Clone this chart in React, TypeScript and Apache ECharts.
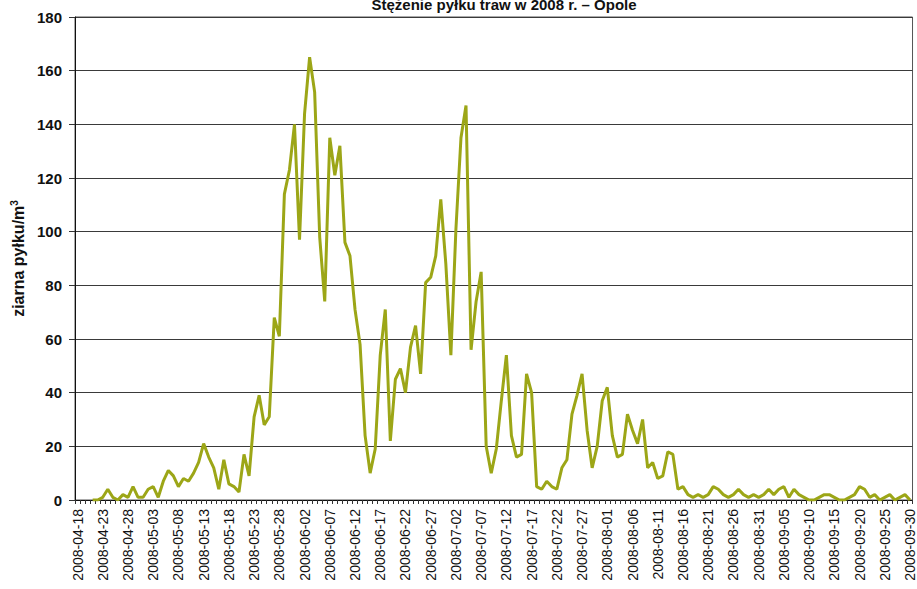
import React, { useEffect, useRef } from "react";
import * as echarts from "echarts";

const TITLE = "Stężenie pyłku traw w 2008 r. – Opole";
const START_DATE = "2008-04-18";
const DAY_COUNT = 166;

const pad = (n: number) => (n < 10 ? "0" + n : "" + n);
const buildDates = (): string[] => {
  const out: string[] = [];
  const d0 = new Date(START_DATE + "T00:00:00Z").getTime();
  for (let i = 0; i < DAY_COUNT; i++) {
    const d = new Date(d0 + i * 86400000);
    out.push(d.getUTCFullYear() + "-" + pad(d.getUTCMonth() + 1) + "-" + pad(d.getUTCDate()));
  }
  return out;
};
const dates = buildDates();

// daily grass pollen concentration (grains / m3)
const aprilValues = [null, null, null, 0, 0, 1, 4, 1, 0, 2, 1, 5, 1];
const mayValues = [1, 4, 5, 1, 7, 11, 9, 5, 8, 7, 10, 14, 21, 16, 12, 4, 15, 6, 5, 3, 17, 9, 31, 39, 28, 31, 68, 61, 114, 123, 140];
const juneValues = [97, 144, 165, 152, 98, 74, 135, 121, 132, 96, 91, 71, 58, 24, 10, 19, 54, 71, 22, 45, 49, 40, 57, 65, 47, 81, 83, 91, 112, 88];
const julyValues = [54, 101, 135, 147, 56, 74, 85, 20, 10, 19, 37, 54, 24, 16, 17, 47, 40, 5, 4, 7, 5, 4, 12, 15, 32, 39, 47, 26, 12, 20, 37];
const augustValues = [42, 24, 16, 17, 32, 26, 21, 30, 12, 14, 8, 9, 18, 17, 4, 5, 2, 1, 2, 1, 2, 5, 4, 2, 1, 2, 4, 2, 1, 2, 1];
const septemberValues = [2, 4, 2, 4, 5, 1, 4, 2, 1, 0, 0, 1, 2, 2, 1, 0, 0, 1, 2, 5, 4, 1, 2, 0, 1, 2, 0, 1, 2, 0];
const pollen = [...aprilValues, ...mayValues, ...juneValues, ...julyValues, ...augustValues, ...septemberValues];

const yTicks = { min: 0, max: 180, interval: 20 };

export default function App() {
  const ref = useRef<HTMLDivElement>(null);
  useEffect(() => {
    if (!ref.current) return;
    const chart = echarts.init(ref.current, undefined, { renderer: "svg" });
    const font = "'Liberation Sans', Arial, sans-serif";
    chart.setOption({
      animation: false,
      backgroundColor: "#ffffff",
      textStyle: { fontFamily: font },
      title: {
        text: TITLE,
        left: 499,
        textAlign: "center",
        top: -8,
        textStyle: { fontFamily: font, fontSize: 15, fontWeight: "bold", color: "#111" },
      },
      grid: {
        left: 75,
        right: 4,
        top: 17,
        bottom: 89,
        show: true,
        borderColor: "#555",
        borderWidth: 1,
        backgroundColor: "#ffffff",
      },
      xAxis: {
        type: "category",
        data: dates,
        boundaryGap: true,
        axisLine: { lineStyle: { color: "#111", width: 1 } },
        axisTick: { show: true, interval: 0, length: 4, lineStyle: { color: "#333" } },
        axisLabel: {
          interval: 4,
          rotate: 90,
          margin: 9,
          fontSize: 14,
          color: "#111",
          fontFamily: font,
        },
        splitLine: { show: false },
      },
      yAxis: {
        type: "value",
        min: yTicks.min,
        max: yTicks.max,
        interval: yTicks.interval,
        name: "ziarna pyłku/m{sup|3}",
        nameLocation: "middle",
        nameGap: 46,
        nameRotate: 90,
        nameTextStyle: {
          fontFamily: font,
          fontSize: 16,
          fontWeight: "bold",
          color: "#111",
          rich: {
            sup: { fontSize: 10, fontWeight: "bold", verticalAlign: "top", color: "#111", padding: [0, 0, 7, 0] },
          },
        },
        axisLine: { show: true, lineStyle: { color: "#111", width: 1 } },
        axisTick: { show: true, length: 6, lineStyle: { color: "#333" } },
        axisLabel: { fontSize: 15, fontWeight: "bold", color: "#111", margin: 13, fontFamily: font },
        splitLine: { show: true, lineStyle: { color: "#3a3a3a", width: 1 } },
      },
      series: [
        {
          type: "line",
          data: pollen,
          showSymbol: false,
          symbol: "none",
          connectNulls: false,
          lineStyle: { color: "#9CA617", width: 3 },
          itemStyle: { color: "#9CA617" },
        },
      ],
    });
    return () => chart.dispose();
  }, []);
  return <div ref={ref} style={{ position: "absolute", left: 0, top: 0, width: 917, height: 589 }} />;
}
